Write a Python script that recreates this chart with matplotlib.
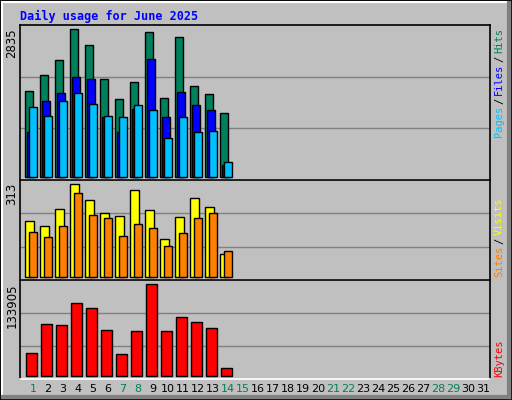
import matplotlib
matplotlib.use("Agg")
import matplotlib.pyplot as plt
from matplotlib.patches import Rectangle

days = list(range(1, 32))
hits = [1642, 1950, 2238, 2835, 2527, 1873, 1488, 1815, 2777, 1507, 2681, 1738, 1585, 1219]
files = [853, 1450, 1604, 1912, 1873, 1142, 853, 1296, 2258, 1142, 1623, 1373, 1277, 219]
pages = [1335, 1162, 1450, 1604, 1392, 1162, 1142, 1373, 1277, 738, 1142, 853, 873, 277]
visits = [188, 171, 228, 313, 259, 215, 205, 293, 225, 127, 201, 266, 235, 76]
sites = [150, 133, 171, 282, 208, 198, 137, 177, 164, 103, 147, 198, 215, 86]
kbytes = [32743, 75260, 73794, 106049, 98718, 66464, 31277, 64998, 133905, 64998, 85523, 78193, 69396, 10752]
weekend = [1, 7, 8, 14, 15, 21, 22, 28, 29]
title = "Daily usage for June 2025"

W, H = 512, 400
BG = "#C0C0C0"; GREEN = "#00805C"
fig = plt.figure(figsize=(W/100, H/100), dpi=100)
fig.patch.set_facecolor(BG)
mono = "DejaVu Sans Mono"

def fx(x): return x / W
def fy(y): return 1 - y / H

# frame
fig.add_artist(Rectangle((0, 0), 1, 1, transform=fig.transFigure, fill=False, ec="black", lw=2))
fig.add_artist(plt.Line2D([fx(2), fx(509)], [fy(2), fy(2)], color="white", lw=1.5))
fig.add_artist(plt.Line2D([fx(2), fx(2)], [fy(2), fy(397)], color="white", lw=1.5))
fig.add_artist(plt.Line2D([fx(509), fx(509)], [fy(3), fy(397)], color="#808080", lw=3))
fig.add_artist(plt.Line2D([fx(3), fx(509)], [fy(397), fy(397)], color="#808080", lw=3))

fig.text(fx(20), fy(16), title, color="#0000FF", fontsize=8.5, fontweight="bold",
         family=mono, va="center", ha="left")

def panel(top, bot, ylim, series, maxlabel):
    ax = fig.add_axes([fx(20), fy(bot), fx(490) - fx(20), (bot - top) / H])
    ax.set_facecolor(BG)
    ax.set_xlim(0, 470)
    ax.set_ylim(*ylim)
    for s in ax.spines.values():
        s.set_color("black"); s.set_linewidth(1.2)
    ax.spines["bottom"].set_color("white")
    ax.set_xticks([]); ax.set_yticks([])
    lo, hi = ylim
    for f in (1/3, 2/3):
        ax.axhline(lo + (hi - lo) * f, color="#808080", lw=1, zorder=0)
    for vals, off, w, col in series:
        xs = [5 + (i) * 15 + off for i in range(len(vals))]
        ax.bar(xs, vals, width=w, align="edge", color=col, edgecolor="black", lw=1, zorder=2)
    fig.text(fx(12), fy(top + 3), maxlabel, rotation=90, va="top", ha="center",
             fontsize=8.5, family="DejaVu Sans")
    return ax

panel(25, 180, (-63, 2918), [(hits, 0.3, 7.4, GREEN), (files, 2.3, 7.4, "#0000FF"),
                              (pages, 4.3, 7.4, "#00C0FF")], str(max(hits)))
panel(180, 280, (-11.2, 327.6), [(visits, 0.3, 8.4, "#FFFF00"), (sites, 4.3, 7.4, "#FF8000")],
      str(max(visits)))
panel(280, 379, (-4835, 140200), [(kbytes, 1.3, 10.4, "#FF0000")], str(max(kbytes)))

for d in days:
    fig.text(fx(33 + (d - 1) * 15), fy(389), str(d), ha="center", va="center",
             fontsize=8, family="DejaVu Sans", color=GREEN if d in weekend else "black")

def rlabel(parts, bottom):
    y = bottom
    for txt, col in parts:
        fig.text(fx(499), fy(y), txt, rotation=90, ha="center", va="bottom",
                 fontsize=7.5, family=mono, color=col)
        y -= len(txt) * 6.0 + 3
rlabel([("Pages", "#00C0FF"), ("/", "black"), ("Files", "#0000FF"), ("/", "black"), ("Hits", GREEN)], 137)
rlabel([("Sites", "#FF8000"), ("/", "black"), ("Visits", "#FFFF00")], 277)
rlabel([("KBytes", "#FF0000")], 377)

fig.savefig("out.png", dpi=100, facecolor=BG)
